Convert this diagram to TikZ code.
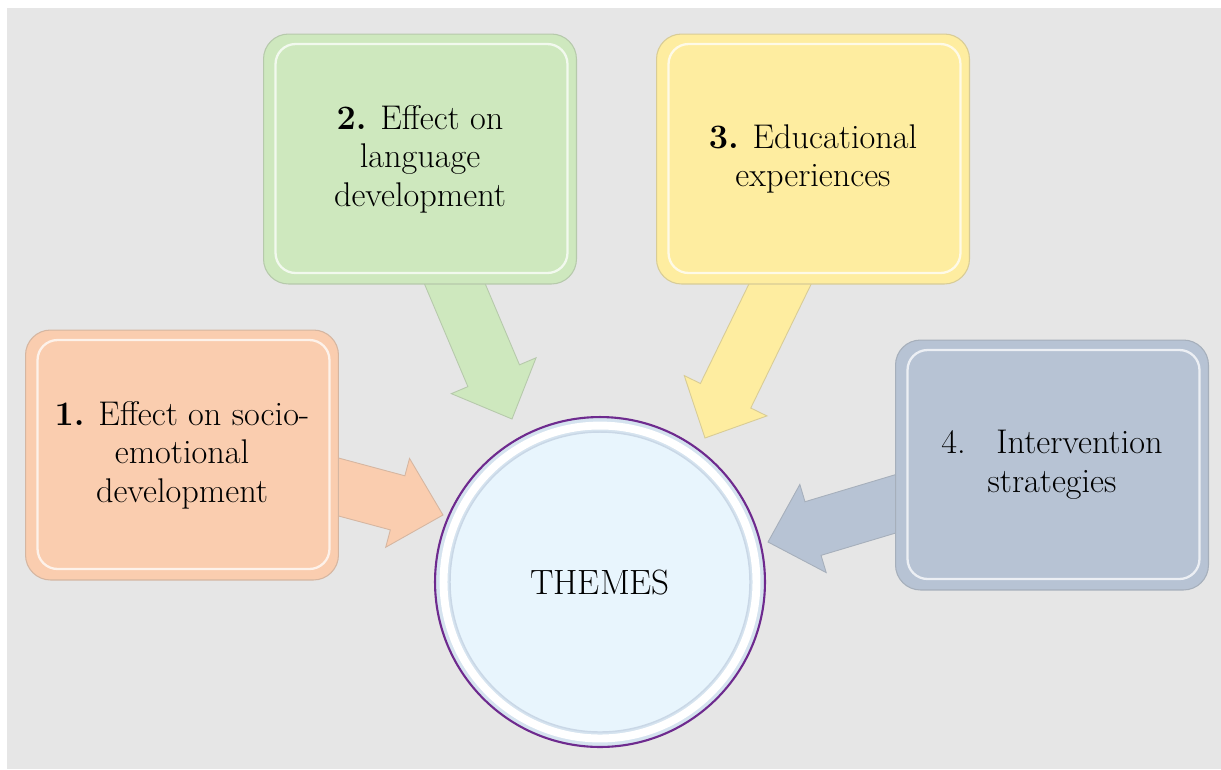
\documentclass[tikz,border=0pt]{standalone}
\usepackage{tikz}
\usetikzlibrary{calc, math}

\definecolor{pagegray}{HTML}{E6E6E6}
\definecolor{peach}{HTML}{FACDAF}
\definecolor{sage}{HTML}{CEE8BE}
\definecolor{butter}{HTML}{FEEDA0}
\definecolor{slate}{HTML}{B7C3D4}
\definecolor{ice}{HTML}{E8F5FD}
\definecolor{iceedge}{HTML}{C9D7E6}
\definecolor{plum}{HTML}{6E2A8E}

\pgfdeclarelayer{back}
\pgfsetlayers{back,main}

\tikzset{
  themebox/.style={rectangle, rounded corners=0.5cm, minimum width=6.26cm, minimum height=5cm,
    fill=#1, draw=#1!70!gray, line width=0.6pt, align=center,
    font=\fontsize{19.5}{22}\selectfont,
    path picture={
      \draw[white, opacity=0.75, line width=1.3pt, rounded corners=0.4cm]
        ([shift={(0.24cm,0.22cm)}]path picture bounding box.south west) rectangle
        ([shift={(-0.18cm,-0.2cm)}]path picture bounding box.north east);
    }},
  themecircle/.style={circle, minimum size=6.6cm, inner sep=0pt,
    fill=iceedge!60!ice, draw=plum, line width=1.2pt,
    font=\fontsize{20}{24}\selectfont,
    path picture={
      \fill[ice] (path picture bounding box.center) circle (3.0cm);
      \draw[iceedge, line width=0.8pt] (path picture bounding box.center) circle (3.0cm);
      \draw[white, line width=4.5pt] (path picture bounding box.center) circle (3.13cm);
    }},
  arrowbody/.style={fill=#1, draw=#1!70!gray, line width=0.5pt}
}

% block arrow: tail, tip, colour
\newcommand{\themearrow}[3]{%
  \coordinate (neck) at ($(#2)!\hl pt!(#1)$);
  \draw[arrowbody=#3] ($(#1)!\sw pt!90:(#2)$) -- ($(neck)!\sw pt!90:(#2)$)
    -- ($(neck)!\hw pt!90:(#2)$) -- (#2) -- ($(neck)!\hw pt!-90:(#2)$)
    -- ($(neck)!\sw pt!-90:(#2)$) -- ($(#1)!\sw pt!-90:(#2)$) -- cycle;
}

\begin{document}
\begin{tikzpicture}[x=0.02cm, y=-0.02cm]

\tikzmath{
  \px = 0.02cm;
  \sw = 28*\px; \hw = 46*\px; \hl = 47*\px;
}

\useasboundingbox (0,0) rectangle (1221,769);
\begin{pgfonlayer}{back}
\fill[pagegray] (7,8) rectangle (1221,769);
\end{pgfonlayer}

% themes
\node[themebox=peach]  (b1) at (182,455)  {\textbf{1.} Effect on socio-\\emotional\\development};
\node[themebox=sage]   (b2) at (420,159)  {\textbf{2.} Effect on\\language\\development};
\node[themebox=butter] (b3) at (813,159)  {\textbf{3.} Educational\\experiences};
\node[themebox=slate]  (b4) at (1052,465) {4.\hspace{0.9em}Intervention\\strategies};

\node[themecircle] (th) at (600,582) {THEMES};

% arrows
\coordinate (b1 tail) at ($(b1)+(0,-10)$);
\coordinate (b2 tail) at ($(b2)+(-18,0)$);
\coordinate (b3 tail) at ($(b3)+(28,0)$);
\coordinate (b4 tail) at ($(b4)+(0,-8)$);
\coordinate (tip1) at (443,515);
\coordinate (tip2) at (512,419);
\coordinate (tip3) at (705,438);
\coordinate (tip4) at (768,542);

\begin{pgfonlayer}{back}
\themearrow{b1 tail}{tip1}{peach}
\themearrow{b2 tail}{tip2}{sage}
\themearrow{b3 tail}{tip3}{butter}
\themearrow{b4 tail}{tip4}{slate}
\end{pgfonlayer}

\end{tikzpicture}
\end{document}
